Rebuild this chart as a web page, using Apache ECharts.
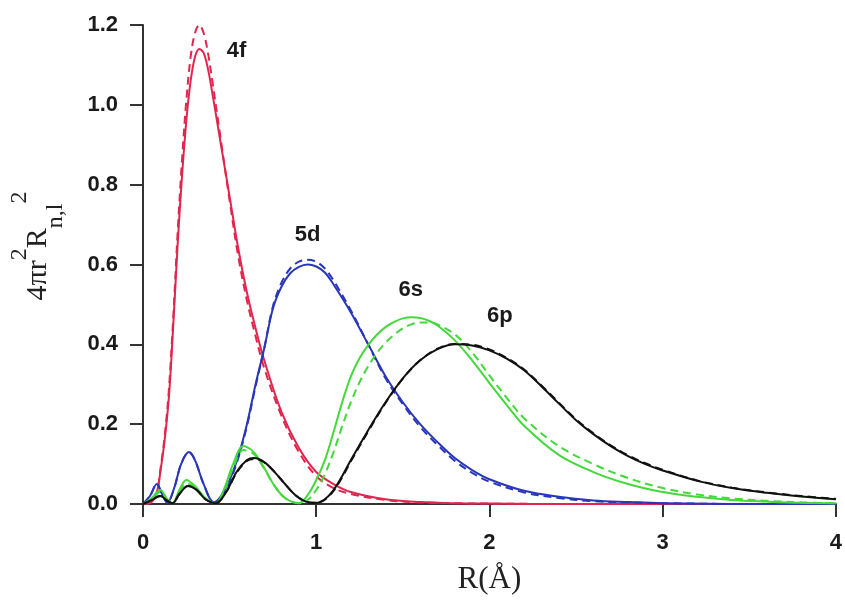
<!DOCTYPE html>
<html>
<head>
<meta charset="utf-8">
<script src="https://cdn.jsdelivr.net/npm/echarts@6/dist/echarts.min.js"></script>
<style>html,body{margin:0;padding:0;background:#fff;}#c{width:845px;height:602px;}</style>
</head>
<body>
<div id="c"></div>
<script>
// ---- data ----
const xTicks = [0, 1, 2, 3, 4];
const yTicks = [0, 0.2, 0.4, 0.6, 0.8, 1.0, 1.2];

const r4f = [0,0.05,0.08,0.1,0.125,0.15,0.175,0.2,0.225,0.25,0.275,0.3,0.325,0.35,0.375,0.4,0.45,0.5,0.55,0.6,0.65,0.7,0.8,0.9,1.0,1.1,1.2,1.4,1.6,1.8,2.0,2.5,3.0,4.0];
const f4Solid = [0,0.005,0.03,0.08,0.16,0.27,0.45,0.65,0.82,0.96,1.06,1.12,1.14,1.13,1.09,1.03,0.9,0.77,0.64,0.53,0.44,0.36,0.23,0.14,0.08,0.05,0.03,0.012,0.005,0.002,0.001,0,0,0];
const f4Dash  = [0,0.005,0.03,0.085,0.17,0.29,0.47,0.68,0.86,1.01,1.12,1.18,1.2,1.18,1.13,1.06,0.91,0.76,0.62,0.51,0.42,0.34,0.22,0.13,0.07,0.04,0.025,0.01,0.004,0.002,0.001,0,0,0];

const r5d = [0,0.04,0.08,0.11,0.14,0.18,0.22,0.265,0.3,0.35,0.41,0.45,0.5,0.55,0.6,0.65,0.7,0.75,0.8,0.85,0.9,0.95,1.0,1.05,1.1,1.2,1.3,1.4,1.5,1.6,1.7,1.8,1.9,2.0,2.2,2.4,2.6,2.8,3.0,3.5,4.0];
const d5Solid = [0,0.02,0.05,0.025,0.003,0.04,0.1,0.13,0.11,0.05,0.004,0.02,0.06,0.12,0.2,0.3,0.39,0.49,0.545,0.578,0.594,0.6,0.595,0.58,0.55,0.48,0.4,0.32,0.255,0.2,0.155,0.115,0.085,0.062,0.033,0.018,0.009,0.005,0.002,0,0];
const d5Dash  = [0,0.02,0.05,0.025,0.003,0.04,0.1,0.13,0.11,0.05,0.004,0.018,0.055,0.115,0.195,0.295,0.39,0.495,0.555,0.59,0.607,0.612,0.607,0.59,0.56,0.485,0.4,0.315,0.25,0.193,0.148,0.108,0.078,0.056,0.029,0.015,0.007,0.004,0.002,0,0];

const r6s = [0,0.05,0.1,0.14,0.17,0.21,0.25,0.3,0.36,0.42,0.47,0.52,0.58,0.64,0.7,0.76,0.82,0.9,0.95,1.0,1.05,1.1,1.15,1.2,1.25,1.3,1.35,1.4,1.45,1.5,1.55,1.6,1.65,1.7,1.8,1.9,2.0,2.1,2.2,2.4,2.6,2.8,3.0,3.2,3.4,3.6,3.8,4.0];
const s6Solid = [0,0.015,0.035,0.012,0.002,0.035,0.06,0.045,0.015,0.002,0.04,0.1,0.145,0.13,0.09,0.045,0.015,0.002,0.022,0.06,0.11,0.18,0.255,0.32,0.365,0.398,0.424,0.443,0.456,0.465,0.468,0.466,0.459,0.447,0.41,0.36,0.303,0.248,0.196,0.123,0.08,0.05,0.03,0.018,0.01,0.006,0.003,0.002];
const s6Dash  = [0,0.013,0.03,0.01,0.002,0.03,0.052,0.04,0.013,0.002,0.035,0.09,0.135,0.125,0.088,0.045,0.015,0.002,0.01,0.035,0.075,0.13,0.195,0.255,0.305,0.345,0.378,0.404,0.424,0.44,0.45,0.455,0.455,0.45,0.425,0.38,0.322,0.266,0.215,0.145,0.1,0.065,0.04,0.024,0.014,0.008,0.004,0.002];

const r6p = [0,0.05,0.1,0.14,0.17,0.21,0.26,0.31,0.36,0.42,0.48,0.54,0.6,0.64,0.7,0.76,0.82,0.88,0.94,1.0,1.05,1.1,1.15,1.2,1.3,1.4,1.5,1.6,1.7,1.8,1.9,2.0,2.1,2.2,2.3,2.4,2.5,2.6,2.7,2.8,2.9,3.0,3.2,3.4,3.6,3.8,4.0];
const p6Solid = [0,0.01,0.02,0.008,0.002,0.025,0.045,0.035,0.012,0.002,0.03,0.08,0.11,0.115,0.105,0.08,0.05,0.022,0.006,0.003,0.012,0.035,0.07,0.11,0.185,0.255,0.315,0.36,0.388,0.4,0.397,0.385,0.364,0.335,0.295,0.252,0.21,0.175,0.145,0.12,0.1,0.084,0.058,0.04,0.028,0.019,0.012];
const p6Dash  = [0,0.01,0.02,0.008,0.002,0.025,0.045,0.035,0.012,0.002,0.03,0.078,0.108,0.113,0.104,0.08,0.05,0.022,0.006,0.003,0.011,0.033,0.067,0.107,0.182,0.253,0.314,0.36,0.389,0.401,0.399,0.387,0.366,0.337,0.297,0.254,0.212,0.177,0.147,0.122,0.102,0.086,0.059,0.041,0.029,0.02,0.013];

const orbitalLabels = [
  {name: '4f', coord: [0.54, 1.134]},
  {name: '5d', coord: [0.95, 0.675]},
  {name: '6s', coord: [1.545, 0.537]},
  {name: '6p', coord: [2.06, 0.472]}
];

// ---- chart ----
const colors = {f: '#e0264e', d: '#2a36b8', s: '#45d83c', p: '#111111'};
function pairs(xs, ys) { return xs.map((x, i) => [x, ys[i]]); }
function mk(name, xs, ys, color, dashed, labelIdx) {
  const s = {
    name: name, type: 'line', data: pairs(xs, ys), showSymbol: false, smooth: 0.35,
    lineStyle: {color: color, width: 2, type: dashed ? [8, 5] : 'solid'},
    itemStyle: {color: color}, silent: true
  };
  if (labelIdx != null) {
    const L = orbitalLabels[labelIdx];
    s.markPoint = {
      symbol: 'circle', symbolSize: 1, itemStyle: {color: 'rgba(0,0,0,0)'},
      label: {show: true, position: 'inside', formatter: L.name, color: '#1a1a1a',
              fontFamily: 'Liberation Sans', fontWeight: 'bold', fontSize: 22},
      data: [{name: L.name, coord: L.coord}]
    };
  }
  return s;
}

const chart = echarts.init(document.getElementById('c'), null, {renderer: 'canvas'});
chart.setOption({
  animation: false,
  backgroundColor: '#ffffff',
  grid: {left: 143, right: 7, top: 25, bottom: 98, containLabel: false},
  xAxis: {
    type: 'value', min: xTicks[0], max: xTicks[xTicks.length - 1], interval: 1,
    name: 'R(Å)', nameLocation: 'middle', nameGap: 60,
    nameTextStyle: {fontFamily: 'Liberation Serif', fontSize: 31, color: '#222'},
    axisLine: {show: true, onZero: false, lineStyle: {color: '#333', width: 2}},
    axisTick: {show: true, length: 13, lineStyle: {color: '#333', width: 2}},
    axisLabel: {margin: 28, color: '#1a1a1a', fontFamily: 'Liberation Sans', fontWeight: 'bold', fontSize: 22,
                formatter: v => String(v)},
    splitLine: {show: false}
  },
  yAxis: {
    type: 'value', min: yTicks[0], max: yTicks[yTicks.length - 1], interval: 0.2,
    axisLine: {show: true, onZero: false, lineStyle: {color: '#333', width: 2}},
    axisTick: {show: true, length: 13, lineStyle: {color: '#333', width: 2}},
    axisLabel: {margin: 25, color: '#1a1a1a', fontFamily: 'Liberation Sans', fontWeight: 'bold', fontSize: 22,
                formatter: v => v.toFixed(1)},
    splitLine: {show: false}
  },
  graphic: [{
    type: 'text', x: 38, y: 246, rotation: Math.PI / 2,
    style: {
      text: '{b|4πr}{sup|2}{b|R}{sub|n,l}{sup|2}',
      align: 'center', verticalAlign: 'middle',
      rich: {
        b: {fontFamily: 'Liberation Serif', fontSize: 30, lineHeight: 60, fill: '#222'},
        sup: {fontFamily: 'Liberation Serif', fontSize: 24, verticalAlign: 'top', lineHeight: 20, fill: '#222'},
        sub: {fontFamily: 'Liberation Serif', fontSize: 24, verticalAlign: 'bottom', lineHeight: 44, fill: '#222'}
      }
    }
  }],
  series: [
    mk('4f dashed', r4f, f4Dash, colors.f, true),
    mk('4f', r4f, f4Solid, colors.f, false, 0),
    mk('5d dashed', r5d, d5Dash, colors.d, true),
    mk('5d', r5d, d5Solid, colors.d, false, 1),
    mk('6s dashed', r6s, s6Dash, colors.s, true),
    mk('6s', r6s, s6Solid, colors.s, false, 2),
    mk('6p dashed', r6p, p6Dash, colors.p, true),
    mk('6p', r6p, p6Solid, colors.p, false, 3)
  ]
});
</script>
</body>
</html>
